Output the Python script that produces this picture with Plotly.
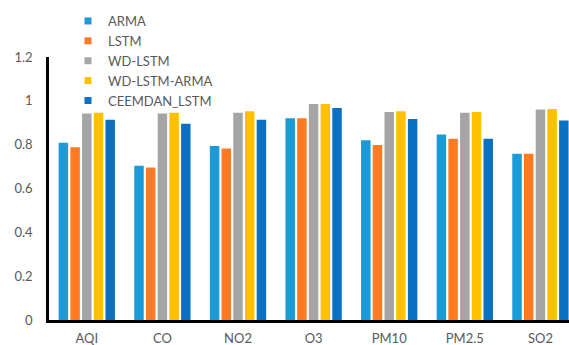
import plotly.graph_objects as go

# Pollutant categories on the x axis
categories = ["AQI", "CO", "NO2", "O3", "PM10", "PM2.5", "SO2"]

# Model names (legend order)
models = ["ARMA", "LSTM", "WD-LSTM", "WD-LSTM-ARMA", "CEEMDAN_LSTM"]

# Score per category for each model
arma = [0.809, 0.704, 0.794, 0.920, 0.820, 0.846, 0.759]
lstm = [0.788, 0.696, 0.783, 0.920, 0.798, 0.827, 0.759]
wd_lstm = [0.942, 0.942, 0.946, 0.985, 0.949, 0.946, 0.960]
wd_lstm_arma = [0.946, 0.946, 0.952, 0.985, 0.952, 0.949, 0.963]
ceemdan_lstm = [0.914, 0.896, 0.914, 0.967, 0.917, 0.827, 0.910]

# Y-axis ticks
y_tickvals = [0, 0.2, 0.4, 0.6, 0.8, 1.0, 1.2]
y_ticktext = ["0", "0.2", "0.4", "0.6", "0.8", "1", "1.2"]

series = [arma, lstm, wd_lstm, wd_lstm_arma, ceemdan_lstm]
colors = ["#1A9AD6", "#FF7A22", "#A5A5A5", "#FFC000", "#0A70C2"]

FONT = "Lato, 'Open Sans', sans-serif"
TEXT_COLOR = "#595959"

fig = go.Figure()

for name, vals, col in zip(models, series, colors):
    fig.add_trace(go.Bar(
        x=categories, y=vals, name=name,
        marker=dict(color=col, line=dict(width=0)),
        showlegend=False,
    ))

# Small square legend swatches
for name, col in zip(models, colors):
    fig.add_trace(go.Scatter(
        x=[None], y=[None], name=name, mode="markers",
        marker=dict(symbol="square", size=7, color=col),
        showlegend=True,
    ))

fig.update_layout(
    width=569, height=345,
    template="none",
    paper_bgcolor="white", plot_bgcolor="white",
    margin=dict(l=49, r=0, t=57, b=25, autoexpand=False),
    barmode="group",
    bargap=0.226,
    bargroupgap=0.19,
    font=dict(family=FONT, size=13, color=TEXT_COLOR),
    showlegend=True,
    legend=dict(
        x=0.1195, y=0.9826, xref="container", yref="container",
        xanchor="left", yanchor="top",
        bgcolor="rgba(0,0,0,0)", borderwidth=0,
        font=dict(family=FONT, size=13, color=TEXT_COLOR),
        itemwidth=30, tracegroupgap=0,
    ),
    xaxis=dict(
        type="category",
        range=[-0.5, 6.378],
        showgrid=False, zeroline=False,
        showline=True, linecolor="black", linewidth=2.5,
        ticks="", ticklabelstandoff=5,
        tickfont=dict(family=FONT, size=13, color=TEXT_COLOR),
        automargin=False,
    ),
    yaxis=dict(
        range=[0, 1.2],
        tickvals=y_tickvals, ticktext=y_ticktext,
        showgrid=False, zeroline=False,
        showline=True, linecolor="black", linewidth=2.5,
        ticks="", ticklabelstandoff=11,
        tickfont=dict(family=FONT, size=13, color=TEXT_COLOR),
        automargin=False,
    ),
)

fig.write_html("out.html")
